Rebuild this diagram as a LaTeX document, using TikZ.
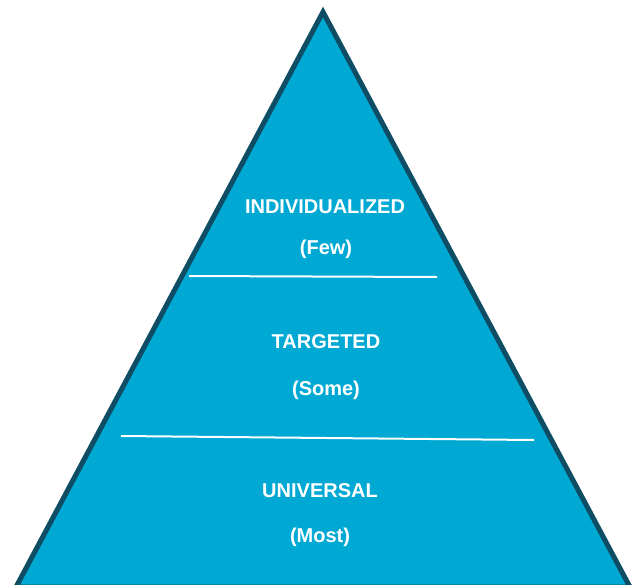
\documentclass[tikz,border=0pt]{standalone}
\usepackage{fontspec}
\setmainfont{Liberation Sans}
\definecolor{pyrfill}{HTML}{00A9D3}
\definecolor{pyrdraw}{HTML}{0E4D64}

\begin{document}
\begin{tikzpicture}[x=1pt,y=-1pt,
    label/.style={text=white,font=\bfseries\fontsize{20}{24}\selectfont}]
          \useasboundingbox (0,0) rectangle (637,584);
          % Corners
          \coordinate (apex) at (323,12);
          \coordinate (left) at (16,587);
          \coordinate (right) at (630,587);
          \coordinate (topL) at (189,276);
          \coordinate (topR) at (437,277);
          \coordinate (midL) at (121,436);
          \coordinate (midR) at (534,440);

          % Pyramid
          \draw[pyrdraw, fill=pyrfill, line width=5pt, line join=miter] (apex) -- (right) -- (left) -- cycle;

          % Lines
          \draw[white, line width=2pt] (topL) -- (topR);
          \draw[white, line width=2pt] (midL) -- (midR);

          % Nodes
          \node[label] (indiv) at (325,207) {INDIVIDUALIZED};
          \node[label] (few) at (326,249) {(Few)};
          \node[label] (target) at (326,342) {TARGETED};
          \node[label] (some) at (326,390) {(Some)};
          \node[label] (univ) at (320,491) {UNIVERSAL};
          \node[label] (most) at (320,537) {(Most)};
        \end{tikzpicture}
\end{document}
